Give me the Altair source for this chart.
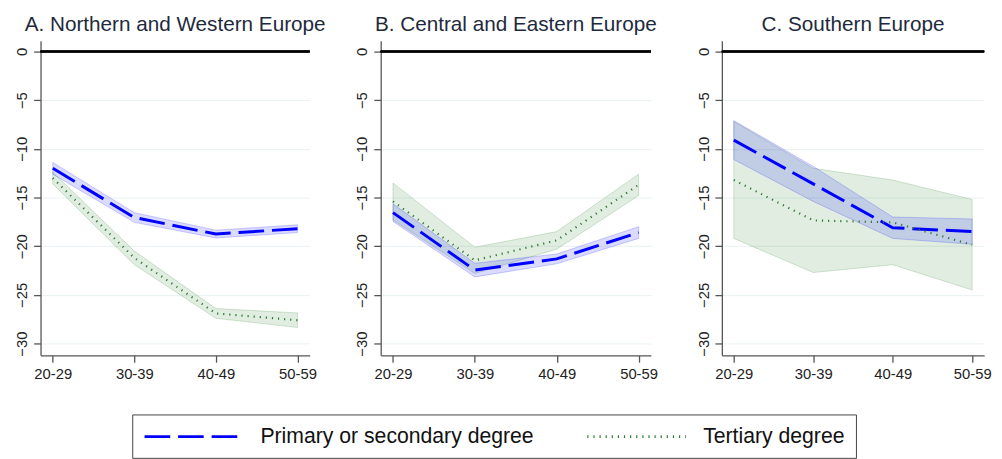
import altair as alt
import pandas as pd

ages = ["20-29", "30-39", "40-49", "50-59"]
panels = ["A. Northern and Western Europe", "B. Central and Eastern Europe", "C. Southern Europe"]
series = ["Primary or secondary degree", "Tertiary degree"]

prim_est = [
    [-12.0, -17.05, -18.75, -18.2],
    [-16.55, -22.45, -21.3, -18.6],
    [-9.1, -13.6, -18.1, -18.5],
]
prim_half = [
    [0.6, 0.5, 0.4, 0.4],
    [0.9, 0.7, 0.5, 0.6],
    [2.0, 1.8, 1.1, 1.3],
]
tert_est = [
    [-13.0, -21.2, -26.9, -27.6],
    [-15.4, -21.45, -19.4, -13.7],
    [-13.2, -17.35, -17.55, -19.85],
]
tert_half = [
    [0.6, 0.7, 0.5, 0.75],
    [1.9, 1.35, 0.9, 1.1],
    [6.0, 5.35, 4.35, 4.65],
]

panel_widths = [273, 274, 266]

rows = []
for p, name in enumerate(panels):
    for i, a in enumerate(ages):
        rows.append(dict(panel=name, age=a, series=series[0], est=prim_est[p][i],
                         lo=prim_est[p][i] - prim_half[p][i], hi=prim_est[p][i] + prim_half[p][i]))
        rows.append(dict(panel=name, age=a, series=series[1], est=tert_est[p][i],
                         lo=tert_est[p][i] - tert_half[p][i], hi=tert_est[p][i] + tert_half[p][i]))
df = pd.DataFrame(rows)

BLUE = "#0000ff"
GREEN = "#2e7a32"

x_enc = alt.X("age:O", sort=ages,
              scale=alt.Scale(type="point", padding=0.15, domain=ages),
              axis=alt.Axis(title=None, labelAngle=0, grid=False, tickSize=7,
                            labelPadding=5, labelFontSize=15))
y_scale = alt.Scale(domain=[-31.2, 1.1], nice=False, zero=False)
y_axis = alt.Axis(title=None, values=[0, -5, -10, -15, -20, -25, -30], labelAngle=270,
                  labelAlign="center", labelBaseline="alphabetic", labelPadding=7,
                  tickSize=7, labelFontSize=15, grid=True, gridColor="#e9f1f3",
                  gridWidth=1)

legend = alt.Legend(title=None, orient="none", legendX=93, legendY=379,
                    direction="horizontal", columns=2, symbolType="M-1,0H9",
                    symbolSize=400, symbolStrokeWidth=2.6, labelFontSize=21.5,
                    labelOffset=96, columnPadding=48, padding=11,
                    strokeColor="#444444", fillColor="white", labelColor="#111111",
                    labelFont="Liberation Sans", labelLimit=400)

color_scale = alt.Scale(domain=series, range=[BLUE, GREEN])
dash_scale = alt.Scale(domain=series, range=[[26, 8], [1.2, 5]])


def make_panel(name, width):
    base = alt.Chart(df).transform_filter(alt.datum.panel == name)
    band_t = base.transform_filter(alt.datum.series == series[1]).mark_area(
        fill="#3c8c3c", fillOpacity=0.16, stroke="#3c8c3c", strokeOpacity=0.22, strokeWidth=1
    ).encode(x=x_enc, y=alt.Y("lo:Q", scale=y_scale, axis=y_axis), y2="hi:Q")
    band_p = base.transform_filter(alt.datum.series == series[0]).mark_area(
        fill="#2020ff", fillOpacity=0.16, stroke="#2020ff", strokeOpacity=0.22, strokeWidth=1
    ).encode(x=x_enc, y=alt.Y("lo:Q", scale=y_scale, axis=y_axis), y2="hi:Q")
    zero = base.mark_rule(color="black", strokeWidth=1.5).encode(y=alt.datum(0))
    line_p = base.transform_filter(alt.datum.series == series[0]).mark_line(
        strokeWidth=3, strokeCap="butt"
    ).encode(
        x=x_enc,
        y=alt.Y("est:Q", scale=y_scale, axis=y_axis),
        color=alt.Color("series:N", scale=color_scale, legend=legend),
        strokeDash=alt.StrokeDash("series:N", scale=dash_scale, legend=legend),
    )
    line_t = base.transform_filter(alt.datum.series == series[1]).mark_line(
        strokeWidth=2.2, strokeCap="butt"
    ).encode(
        x=x_enc,
        y=alt.Y("est:Q", scale=y_scale, axis=y_axis),
        color=alt.Color("series:N", scale=color_scale, legend=legend),
        strokeDash=alt.StrokeDash("series:N", scale=dash_scale, legend=legend),
    )
    return alt.layer(band_t, band_p, zero, line_p, line_t).properties(
        width=width, height=319,
        title=alt.TitleParams(text=name, anchor="middle", fontSize=21, fontWeight="normal",
                              color="#1e2a3c", offset=6,
                              font="Liberation Sans"),
    )


chart = alt.hconcat(*[make_panel(n, w) for n, w in zip(panels, panel_widths)],
                    spacing=72, bounds="flush").properties(
    padding={"left": 7, "top": 3, "right": 2, "bottom": 0}
).configure_view(stroke=None).configure_axis(
    domainColor="#555555", tickColor="#555555", domainWidth=1.3, tickWidth=1.3,
    labelColor="#222222", labelFont="Liberation Sans"
)

chart.save("out.html", embed_options={"renderer": "svg", "actions": False})
